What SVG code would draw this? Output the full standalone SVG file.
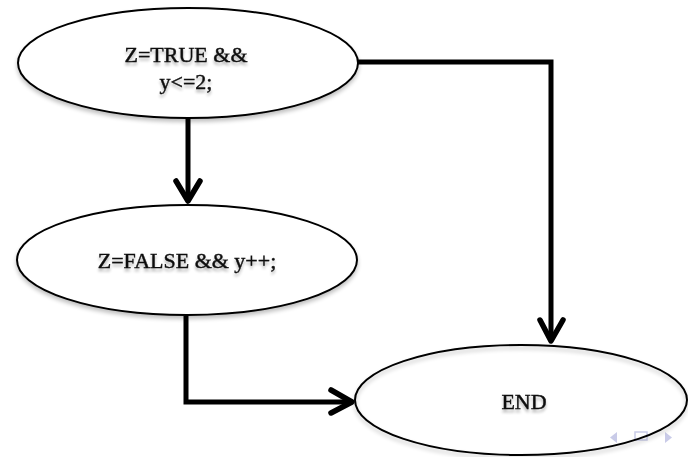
<svg xmlns="http://www.w3.org/2000/svg" width="688" height="457" viewBox="0 0 688 457">
<style>
.node{fill:#fff;stroke:#000;stroke-width:2;filter:url(#sh)}
.lbl{font-family:"Liberation Serif",serif;font-size:22px;fill:#111;stroke:#111;stroke-width:0.45;text-anchor:middle;filter:url(#tsh)}
.edge{fill:none;stroke:#000;stroke-width:5;stroke-linejoin:miter}
.head{fill:none;stroke:#000;stroke-width:5.5;stroke-linecap:round;stroke-linejoin:round}
.nav{fill:#c9cbe8}
</style>
<defs>
<filter id="sh" x="-10%" y="-10%" width="120%" height="130%">
<feGaussianBlur in="SourceAlpha" stdDeviation="2"/>
<feOffset dx="0" dy="3" result="b"/>
<feComponentTransfer><feFuncA type="linear" slope="0.25"/></feComponentTransfer>
<feMerge><feMergeNode/><feMergeNode in="SourceGraphic"/></feMerge>
</filter>
<filter id="tsh" x="-10%" y="-30%" width="120%" height="180%">
<feGaussianBlur in="SourceAlpha" stdDeviation="1.5"/>
<feOffset dx="0" dy="3" result="b"/>
<feComponentTransfer><feFuncA type="linear" slope="0.3"/></feComponentTransfer>
<feMerge><feMergeNode/><feMergeNode in="SourceGraphic"/></feMerge>
</filter>
</defs>
<g id="connectors">
<path class="edge" d="M188 118 V201"/>
<path class="head" d="M176 181 L188 201 L200 181"/>
<path class="edge" d="M357 62 H551 V341"/>
<path class="head" d="M540 320 L551 341 L563 320"/>
<path class="edge" d="M186 316 V402 H351"/>
<path class="head" d="M331 390 L352 402 L331 413"/>
</g>
<g id="node-cond">
<ellipse class="node" cx="188" cy="63" rx="170" ry="55"/>
<text class="lbl" x="186" y="62">Z=TRUE &amp;&amp;</text>
<text class="lbl" x="186" y="89">y&lt;=2;</text>
</g>
<g id="node-body">
<ellipse class="node" cx="187" cy="260" rx="170" ry="55"/>
<text class="lbl" x="187" y="268">Z=FALSE &amp;&amp; y++;</text>
</g>
<g id="nav">
<polygon class="nav" points="617,432 610,437.5 617,443"/>
<rect x="635" y="432" width="12" height="8" fill="none" stroke="#c9cbe8" stroke-width="1.5"/>
<polygon class="nav" points="665,432 672,437.5 665,443"/>
</g>
<g id="node-end">
<ellipse class="node" cx="521" cy="400" rx="166" ry="55" style="fill:none"/>
<text class="lbl" x="524" y="409">END</text>
</g>
</svg>
